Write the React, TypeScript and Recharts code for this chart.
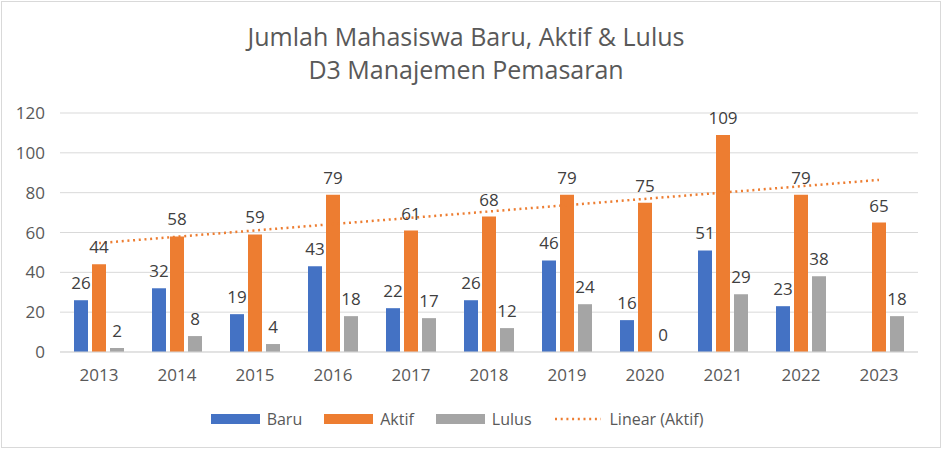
import React from 'react';
import {
  BarChart,
  Bar,
  XAxis,
  YAxis,
  CartesianGrid,
  LabelList,
  ReferenceLine,
} from 'recharts';

const years = ['2013', '2014', '2015', '2016', '2017', '2018', '2019', '2020', '2021', '2022', '2023'];
const baru = [26, 32, 19, 43, 22, 26, 46, 16, 51, 23, null];
const aktif = [44, 58, 59, 79, 61, 68, 79, 75, 109, 79, 65];
const lulus = [2, 8, 4, 18, 17, 12, 24, 0, 29, 38, 18];
// Excel's linear trendline of Aktif, read at the first and last year
const trendEnds = [54.7, 86.4];
const yTicks = [0, 20, 40, 60, 80, 100, 120];

const BLUE = '#4472C4';
const ORANGE = '#ED7D31';
const GRAY = '#A5A5A5';
const FONT = '"Open Sans", "Noto Sans", sans-serif';

const data = years.map((year, i) => ({
  year,
  baru: baru[i],
  aktif: aktif[i],
  lulus: lulus[i],
}));

const legendItems = [
  { name: 'Baru', color: BLUE, dotted: false },
  { name: 'Aktif', color: ORANGE, dotted: false },
  { name: 'Lulus', color: GRAY, dotted: false },
  { name: 'Linear (Aktif)', color: ORANGE, dotted: true },
];

// labels drawn from the bar geometry, placed above the bar top
const ValueLabel = (props: any) => {
  const { x, y, width, height, value } = props;
  if (value === null || value === undefined) return null;
  const top = Math.min(Number(y), Number(y) + Number(height));
  return (
    <text
      x={Number(x) + Number(width) / 2}
      y={top - 11}
      textAnchor="middle"
      fill="#404040"
      fontSize={17}
      fontFamily={FONT}
    >
      {String(value)}
    </text>
  );
};

export default function App() {
  const tickStyle = { fill: '#595959', fontSize: 17, fontFamily: FONT };

  return (
    <div
      style={{
        position: 'absolute',
        left: 0,
        top: 0,
        width: 942,
        height: 449,
        background: '#fff',
        fontFamily: FONT,
      }}
    >
      {/* chart border */}
      <div
        style={{
          position: 'absolute',
          left: 1,
          top: 1,
          width: 938,
          height: 445,
          border: '1px solid #D9D9D9',
        }}
      />
      {/* title */}
      <div
        style={{
          position: 'absolute',
          left: -5,
          top: 20,
          width: 942,
          textAlign: 'center',
          color: '#595959',
          fontSize: 25,
          lineHeight: '33px',
        }}
      >
        <div>Jumlah Mahasiswa Baru, Aktif &amp; Lulus</div>
        <div>D3 Manajemen Pemasaran</div>
      </div>

      <BarChart
        width={942}
        height={449}
        data={data}
        margin={{ top: 113, right: 24, left: 0, bottom: 60 }}
        barGap={4}
        barSize={14}
        style={{ position: 'absolute', left: 0, top: 0 }}
      >
        <CartesianGrid vertical={false} stroke="#D9D9D9" strokeWidth={1} />
        <XAxis
          dataKey="year"
          axisLine={{ stroke: '#D9D9D9' }}
          tickLine={false}
          tickSize={0}
          tickMargin={17}
          tick={tickStyle}
          height={37}
          interval={0}
        />
        <YAxis
          domain={[0, 120]}
          ticks={yTicks}
          axisLine={false}
          tickLine={false}
          tickSize={0}
          tickMargin={15}
          tick={tickStyle}
          width={60}
          interval={0}
        />
        <Bar dataKey="baru" fill={BLUE} isAnimationActive={false}>
          <LabelList dataKey="baru" content={ValueLabel} />
        </Bar>
        <Bar dataKey="aktif" fill={ORANGE} isAnimationActive={false}>
          <LabelList dataKey="aktif" content={ValueLabel} />
        </Bar>
        <Bar dataKey="lulus" fill={GRAY} minPointSize={0.01} isAnimationActive={false}>
          <LabelList dataKey="lulus" content={ValueLabel} />
        </Bar>
        <ReferenceLine
          segment={[
            { x: years[0], y: trendEnds[0] },
            { x: years[years.length - 1], y: trendEnds[1] },
          ]}
          stroke={ORANGE}
          strokeWidth={2.5}
          strokeDasharray="2 3.7"
        />
      </BarChart>

      {/* legend */}
      <div
        style={{
          position: 'absolute',
          left: -14,
          top: 408,
          width: 942,
          display: 'flex',
          justifyContent: 'center',
          alignItems: 'center',
          color: '#595959',
          fontSize: 16,
        }}
      >
        {legendItems.map((item) => (
          <div
            key={item.name}
            style={{ display: 'flex', alignItems: 'center', margin: '0 11px' }}
          >
            {item.dotted ? (
              <svg width={48} height={10} style={{ marginRight: 8 }}>
                <line
                  x1={1}
                  y1={5}
                  x2={47}
                  y2={5}
                  stroke={ORANGE}
                  strokeWidth={2.5}
                  strokeDasharray="2 3.7"
                />
              </svg>
            ) : (
              <div
                style={{
                  width: 49,
                  height: 10,
                  background: item.color,
                  marginRight: 7,
                }}
              />
            )}
            <span>{item.name}</span>
          </div>
        ))}
      </div>
    </div>
  );
}
